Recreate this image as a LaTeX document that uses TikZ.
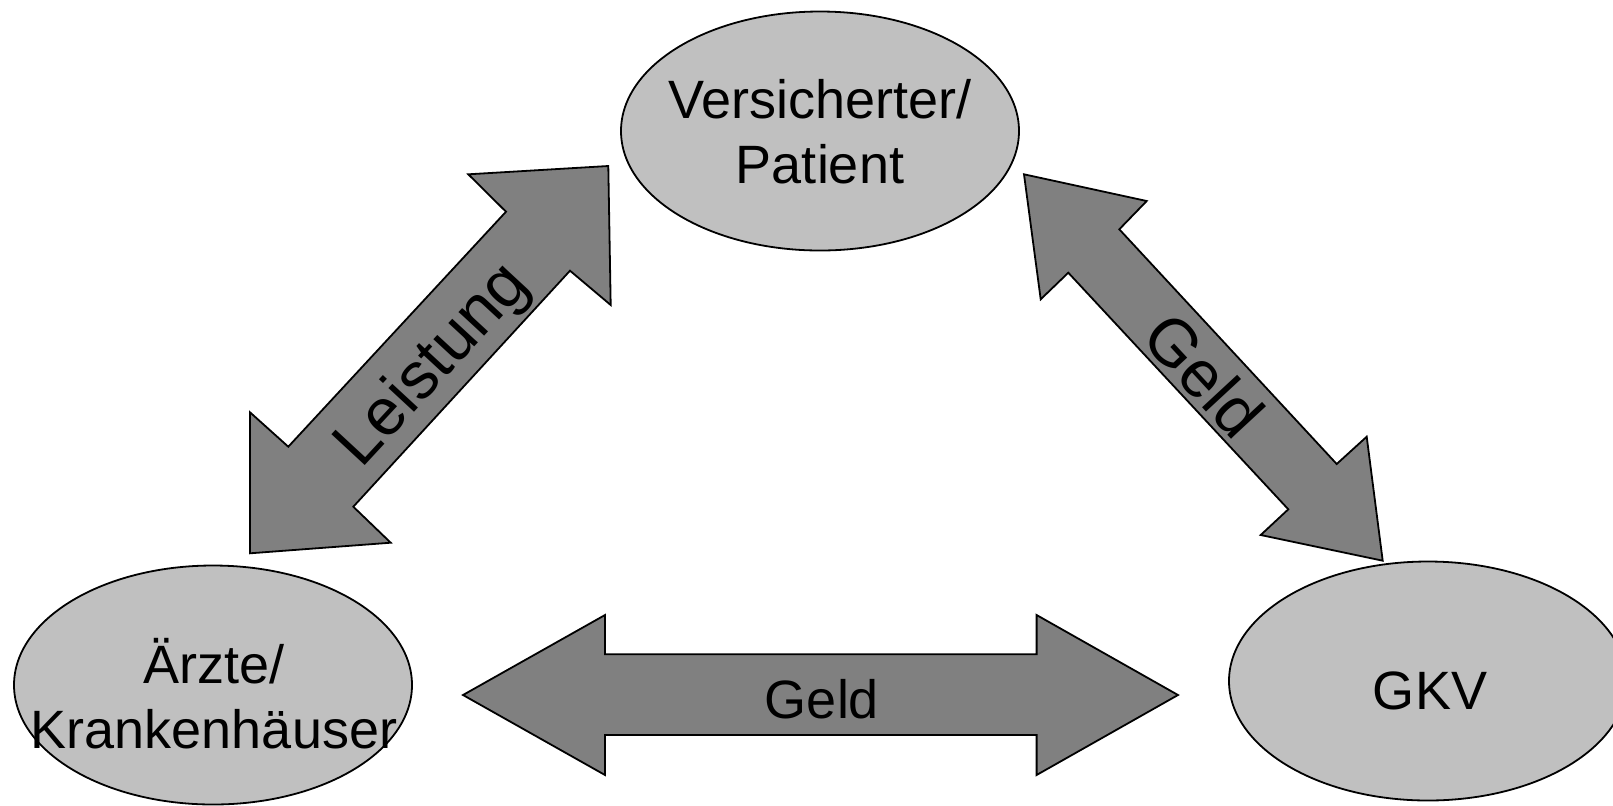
\documentclass[tikz,border=0pt]{standalone}
\usepackage{fontspec}
\setmainfont{Liberation Sans}
\usetikzlibrary{shapes.geometric}
\definecolor{partyfill}{RGB}{192,192,192}
\definecolor{arrowfill}{RGB}{128,128,128}
\begin{document}
\begin{tikzpicture}[x=0.5pt,y=-0.5pt,
  party/.style={ellipse, draw=black, line width=0.9pt, fill=partyfill, inner sep=0pt},
  blockarrow/.style={draw=black, line width=0.9pt, fill=arrowfill, line join=miter},
  lbl/.style={font=\fontsize{27}{32.5}\selectfont, align=center, text=black, inner sep=0pt},
  biglbl/.style={font=\fontsize{33}{38}\selectfont, text=black, inner sep=0pt}]
\useasboundingbox (0,0) rectangle (1613,805);

% parties
\node[party, minimum width=199pt, minimum height=119.5pt] (vp) at (820,131) {};
\node[party, minimum width=199pt, minimum height=119.5pt] (ak) at (213,685) {};
\node[party, minimum width=199pt, minimum height=119.5pt] (gkv) at (1428,681) {};

% left double arrow (Leistung)
\coordinate (a1) at (468.3,174.3);
\coordinate (a2) at (608.3,166);
\coordinate (a3) at (610.7,305);
\coordinate (a4) at (570,270.7);
\coordinate (a5) at (353.3,506.7);
\coordinate (a6) at (390.7,542.7);
\coordinate (a7) at (250,553.3);
\coordinate (a8) at (250,412.3);
\coordinate (a9) at (288.3,446.7);
\coordinate (a10) at (506,211.7);
\draw[blockarrow] (a1) -- (a2) -- (a3) -- (a4) -- (a5) -- (a6) -- (a7) -- (a8) -- (a9) -- (a10) -- cycle;

% right double arrow (Geld)
\coordinate (b1) at (1024,174.3);
\coordinate (b2) at (1146.7,201);
\coordinate (b3) at (1119.3,229.3);
\coordinate (b4) at (1336.7,464);
\coordinate (b5) at (1366.7,436.7);
\coordinate (b6) at (1382.7,560.7);
\coordinate (b7) at (1260.7,535);
\coordinate (b8) at (1288.3,509.3);
\coordinate (b9) at (1068.3,272.7);
\coordinate (b10) at (1040.7,299.3);
\draw[blockarrow] (b1) -- (b2) -- (b3) -- (b4) -- (b5) -- (b6) -- (b7) -- (b8) -- (b9) -- (b10) -- cycle;

% bottom double arrow (Geld)
\coordinate (c1) at (463,695);
\coordinate (c2) at (605,615);
\coordinate (c3) at (605,654.3);
\coordinate (c4) at (1036.6,654.3);
\coordinate (c5) at (1036.6,615);
\coordinate (c6) at (1178,695);
\coordinate (c7) at (1036.6,775);
\coordinate (c8) at (1036.6,735);
\coordinate (c9) at (605,735);
\coordinate (c10) at (605,775);
\draw[blockarrow] (c1) -- (c2) -- (c3) -- (c4) -- (c5) -- (c6) -- (c7) -- (c8) -- (c9) -- (c10) -- cycle;

% texts
\node[lbl] (vpt) at (820,132) {Versicherter/\\Patient};
\node[lbl] (akt) at (214,694) {Ärzte/\\Krankenhäuser};
\node[lbl] (gkvt) at (1430,691) {GKV};
\node[biglbl, rotate=47.2] (leis) at (434,366) {Leistung};
\node[biglbl, rotate=-47.2] (geld1) at (1204,375) {Geld};
\node[lbl] (geld2) at (822,699) {Geld};
\end{tikzpicture}
\end{document}
